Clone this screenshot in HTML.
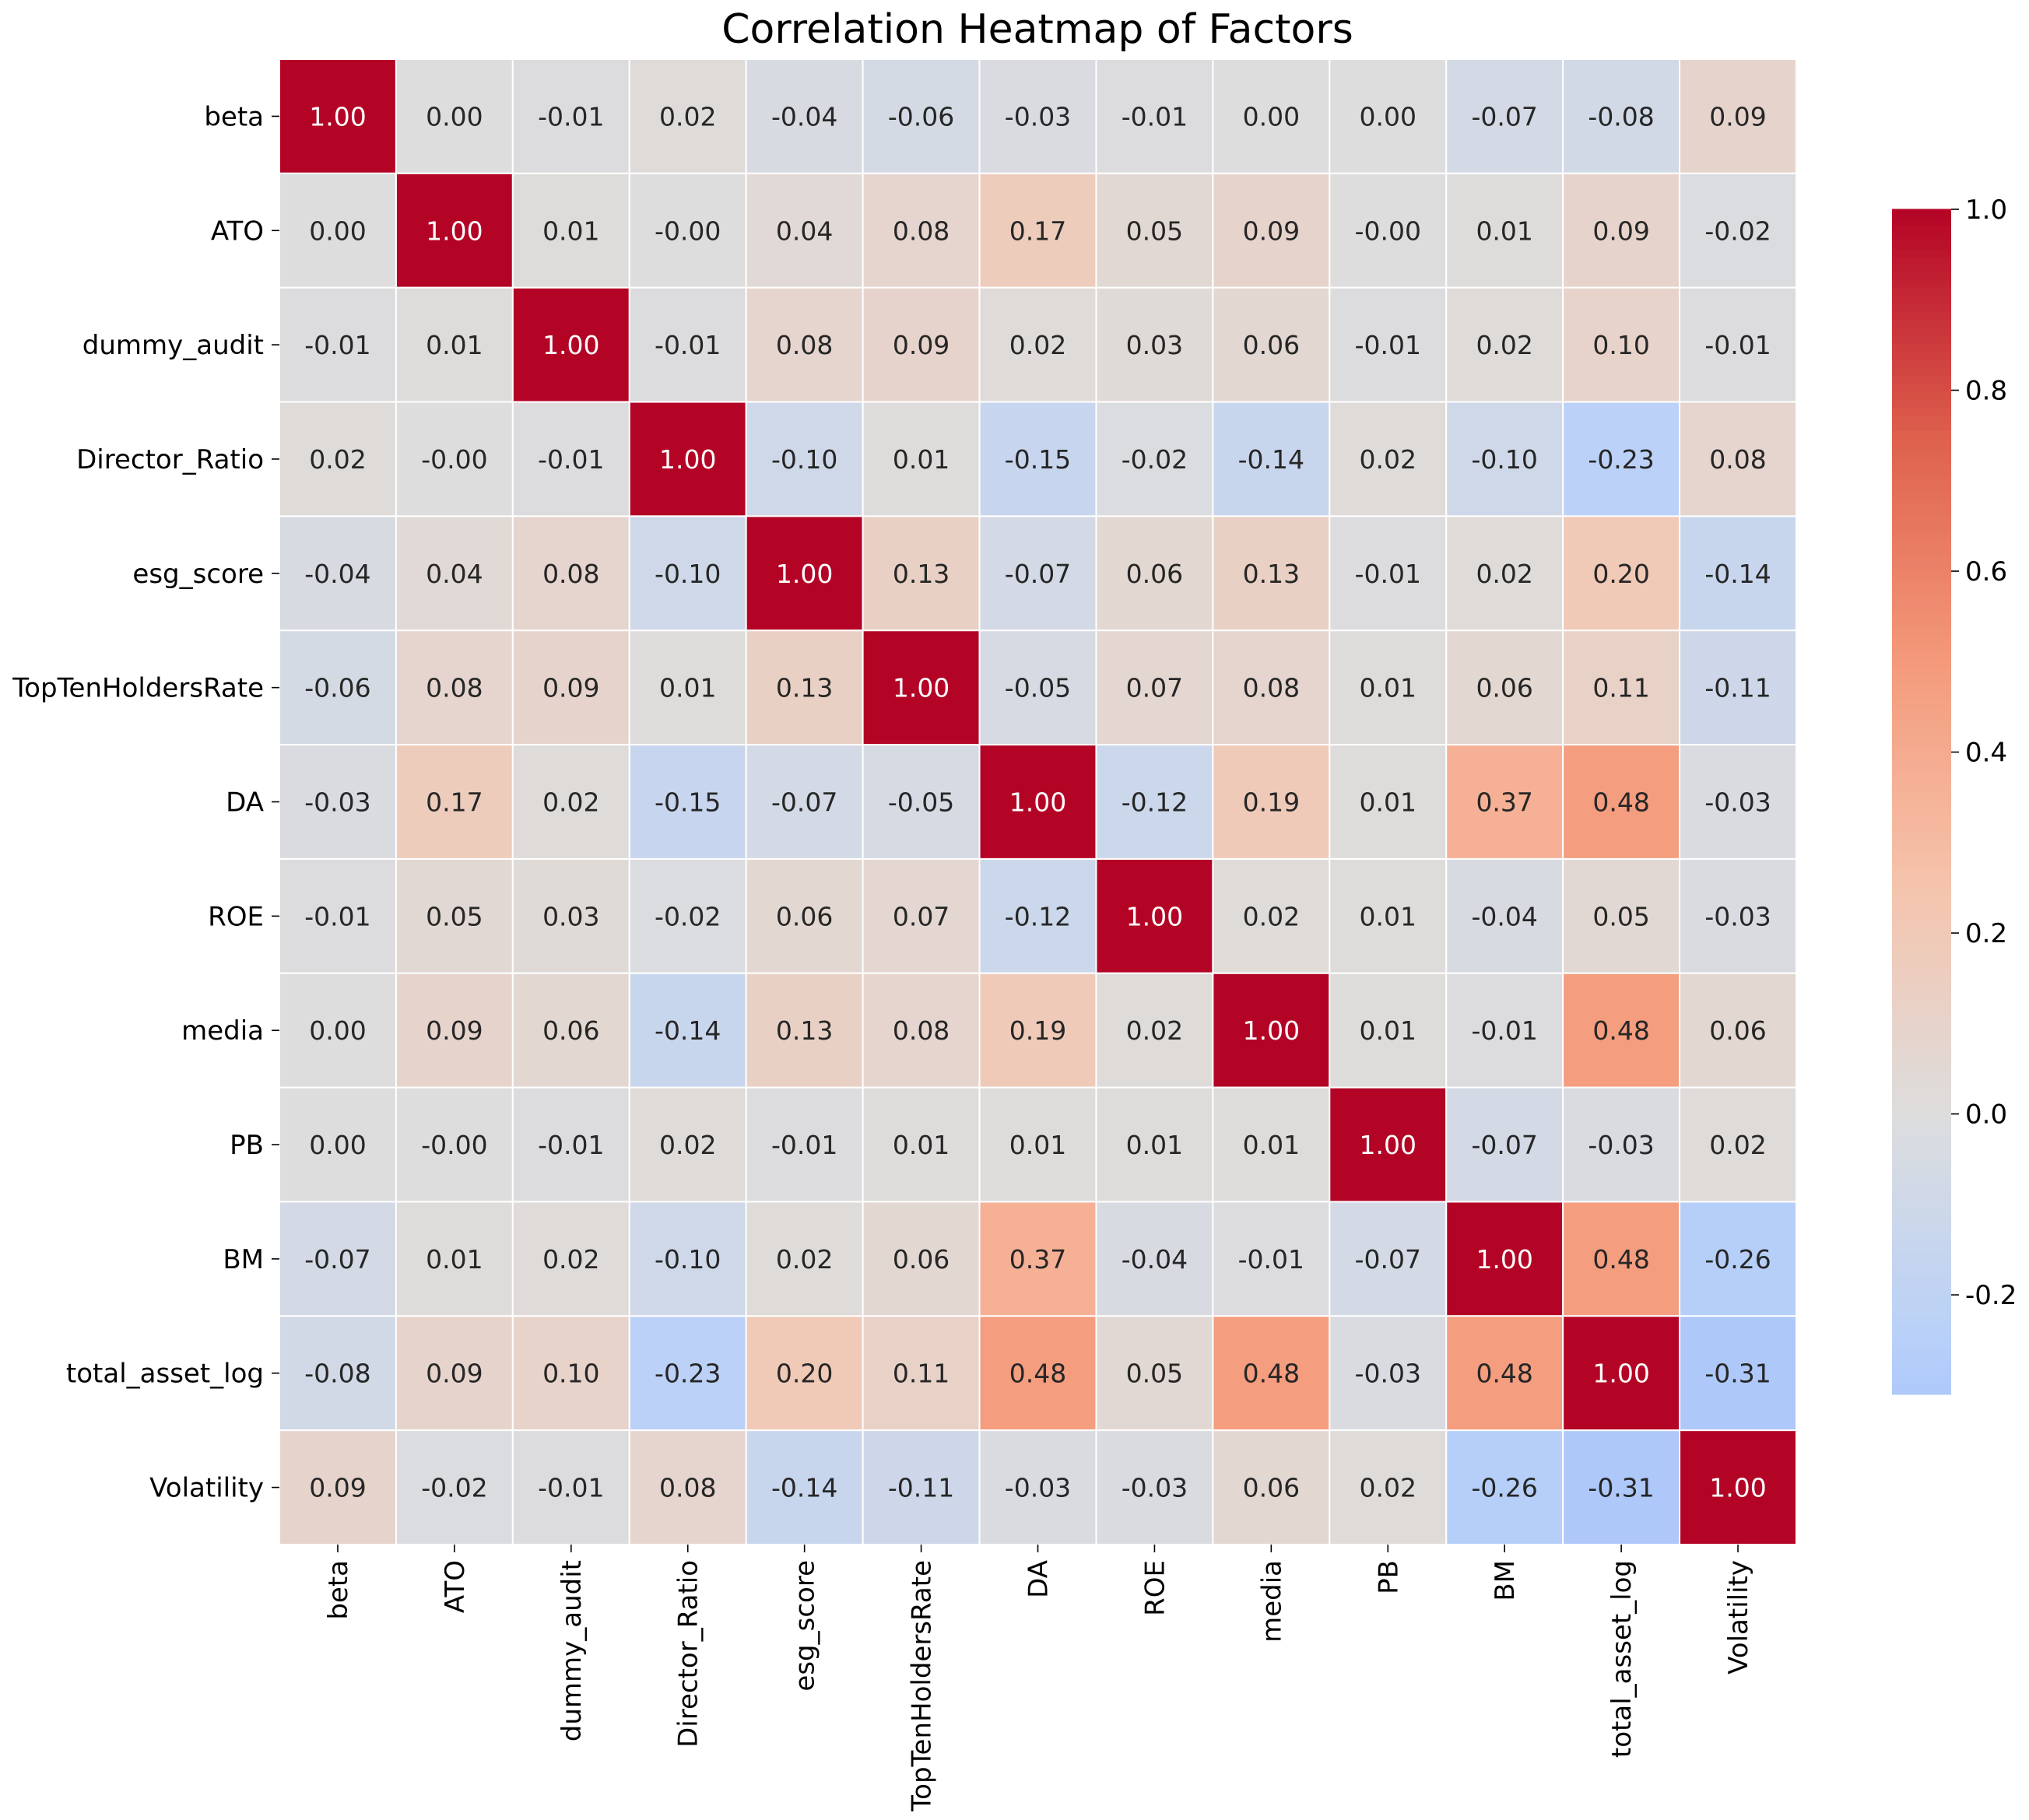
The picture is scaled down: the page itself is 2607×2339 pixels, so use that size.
<!DOCTYPE html>
<html><head><meta charset="utf-8">
<style>
html,body{margin:0;padding:0;background:#fff;}
svg{display:block;}
text{font-family:"DejaVu Sans","Liberation Sans",sans-serif;}
</style></head>
<body>
<svg id="chart" width="2607" height="2339" viewBox="0 0 2607 2339" xmlns="http://www.w3.org/2000/svg">
<rect width="2607" height="2339" fill="#fff"/>
<text x="1333" y="55" font-size="52" text-anchor="middle" fill="#000">Correlation Heatmap of Factors</text>
<g id="cells"></g>
<g id="labels"></g>
<g id="cbar"></g>
</svg>
<script>
const factors = ["beta","ATO","dummy_audit","Director_Ratio","esg_score","TopTenHoldersRate","DA","ROE","media","PB","BM","total_asset_log","Volatility"];
const rowBeta = [1.00,0.00,-0.01,0.02,-0.04,-0.06,-0.03,-0.01,0.00,0.00,-0.07,-0.08,0.09];
const rowATO = [0.00,1.00,0.01,-0.001,0.04,0.08,0.17,0.05,0.09,-0.001,0.01,0.09,-0.02];
const rowDummyAudit = [-0.01,0.01,1.00,-0.01,0.08,0.09,0.02,0.03,0.06,-0.01,0.02,0.10,-0.01];
const rowDirectorRatio = [0.02,-0.001,-0.01,1.00,-0.10,0.01,-0.15,-0.02,-0.14,0.02,-0.10,-0.23,0.08];
const rowEsg = [-0.04,0.04,0.08,-0.10,1.00,0.13,-0.07,0.06,0.13,-0.01,0.02,0.20,-0.14];
const rowTopTen = [-0.06,0.08,0.09,0.01,0.13,1.00,-0.05,0.07,0.08,0.01,0.06,0.11,-0.11];
const rowDA = [-0.03,0.17,0.02,-0.15,-0.07,-0.05,1.00,-0.12,0.19,0.01,0.37,0.48,-0.03];
const rowROE = [-0.01,0.05,0.03,-0.02,0.06,0.07,-0.12,1.00,0.02,0.01,-0.04,0.05,-0.03];
const rowMedia = [0.00,0.09,0.06,-0.14,0.13,0.08,0.19,0.02,1.00,0.01,-0.01,0.48,0.06];
const rowPB = [0.00,-0.001,-0.01,0.02,-0.01,0.01,0.01,0.01,0.01,1.00,-0.07,-0.03,0.02];
const rowBM = [-0.07,0.01,0.02,-0.10,0.02,0.06,0.37,-0.04,-0.01,-0.07,1.00,0.48,-0.26];
const rowTotalAsset = [-0.08,0.09,0.10,-0.23,0.20,0.11,0.48,0.05,0.48,-0.03,0.48,1.00,-0.31];
const rowVolatility = [0.09,-0.02,-0.01,0.08,-0.14,-0.11,-0.03,-0.03,0.06,0.02,-0.26,-0.31,1.00];
const cbarTicks = [1.0,0.8,0.6,0.4,0.2,0.0,-0.2];

const matrix = [rowBeta,rowATO,rowDummyAudit,rowDirectorRatio,rowEsg,rowTopTen,rowDA,rowROE,rowMedia,rowPB,rowBM,rowTotalAsset,rowVolatility];
const NS="http://www.w3.org/2000/svg";
const X0=359,X1=2308,Y0=76,Y1=1985;
const FS=34, AFS=33;
const n=factors.length, cw=(X1-X0)/n, ch=(Y1-Y0)/n;
const xPos=i=>X0+i*cw, yPos=i=>Y0+i*ch;
let vmin=Infinity,vmax=-Infinity;
matrix.forEach(r=>r.forEach(v=>{vmin=Math.min(vmin,v);vmax=Math.max(vmax,v);}));
const vrange=Math.max(vmax,-vmin);
const stops=[[59,76,192],[98,130,234],[141,176,254],[184,208,249],[221,221,221],[245,196,173],[244,154,123],[222,96,77],[180,4,38]];
function cmap(v){let t=(v/vrange+1)/2;t=Math.max(0,Math.min(1,t));const p=t*8,i=Math.min(7,Math.floor(p)),f=p-i;
 const c=stops[i].map((a,k)=>Math.round(a+(stops[i+1][k]-a)*f));return `rgb(${c.join(',')})`;}
function lum(v){const m=cmap(v).match(/\d+/g).map(Number);return 0.299*m[0]+0.587*m[1]+0.114*m[2];}
function mk(tag,attrs,parent){const e=document.createElementNS(NS,tag);for(const k in attrs)e.setAttribute(k,attrs[k]);parent.appendChild(e);return e;}
const cells=document.getElementById('cells'),labels=document.getElementById('labels'),cbar=document.getElementById('cbar');
matrix.forEach((row,r)=>row.forEach((v,c)=>{
 const rect=mk('rect',{x:xPos(c),y:yPos(r),width:cw,height:ch,fill:cmap(v),stroke:'#fff','stroke-width':2},cells);
 
 
 const t=mk('text',{x:xPos(c)+cw/2,y:yPos(r)+ch/2+12,'font-size':AFS,'text-anchor':'middle',fill:lum(v)<120?'#fff':'#262626'},cells);
 t.textContent=v.toFixed(2);
 
 
}));
factors.forEach((f,i)=>{
 const cy=yPos(i)+ch/2;
 mk('line',{x1:X0-10,x2:X0,y1:cy,y2:cy,stroke:'#000','stroke-width':1.6},labels);
 const t=mk('text',{x:X0-20,y:cy+12,'font-size':FS,'text-anchor':'end',fill:'#000'},labels);
 t.textContent=f;
 
 
 const cx=xPos(i)+cw/2;
 mk('line',{x1:cx,x2:cx,y1:Y1,y2:Y1+10,stroke:'#000','stroke-width':1.6},labels);
 const tx=mk('text',{x:0,y:0,'font-size':FS,'text-anchor':'end',fill:'#000',transform:`translate(${cx+12},${Y1+20}) rotate(-90)`},labels);
 tx.textContent=f;
 
 
});
const CX=2431,CW=76,CT=269,CB=1792;
const cy=v=>CB-(v-vmin)/(vmax-vmin)*(CB-CT);
const N=150;
for(let k=0;k<N;k++){const v0=vmin+(vmax-vmin)*k/N,v1=vmin+(vmax-vmin)*(k+1)/N;
 const r=mk('rect',{x:CX,y:cy(v1)-0.5,width:CW,height:cy(v0)-cy(v1)+1,fill:cmap((v0+v1)/2)},cbar);
 
 }
cbarTicks.forEach(v=>{const y=cy(v);
 mk('line',{x1:CX+CW,x2:CX+CW+10,y1:y,y2:y,stroke:'#000','stroke-width':1.6},cbar);
 const t=mk('text',{x:CX+CW+18,y:y+12,'font-size':FS,fill:'#000'},cbar);
 t.textContent=(v<0?'-':'')+Math.abs(v).toFixed(1);
 
 });
</script>
</body></html>
